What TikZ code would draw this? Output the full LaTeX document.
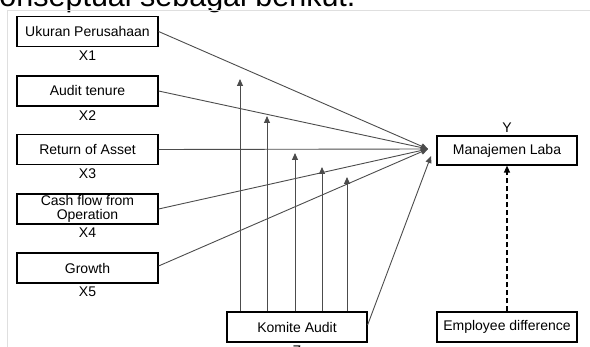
\documentclass[tikz,border=0pt]{standalone}
\usepackage{fontspec}
\setmainfont{Liberation Sans}
\usepackage{tikz}
\usetikzlibrary{arrows.meta, positioning, calc}

\begin{document}
\begin{tikzpicture}[
    x=1pt, y=-1pt,
    >={Triangle[length=7pt, width=6pt]},
    font=\fontsize{14}{14.5}\selectfont,
    varbox/.style={rectangle, draw=black, line width=1.2pt, align=center, inner sep=0pt, minimum width=141pt, minimum height=30pt},
    varlbl/.style={inner sep=0pt},
    line/.style={draw=black!70, line width=0.9pt, ->},
    dashline/.style={draw=black, line width=1.3pt, dash pattern=on 5pt off 3pt, ->},
    framegray/.style={draw=gray!25, line width=0.8pt}
]
    \useasboundingbox (0,0) rectangle (590,347);

    % Teks dan bingkai halaman
    \node [anchor=base west, inner sep=0pt, font=\fontsize{30.5}{32}\selectfont] (caption) at (-16,6.5) {konseptual sebagai berikut.};
    \draw [framegray] (590,10.5) -- (7.5,10.5) -- (7.5,347);

    % Variabel independen
    \node [varbox] (ukuran) at (87.5,31.5) {Ukuran Perusahaan};
    \node [varlbl, below=3.5pt of ukuran] (x1) {X1};
    \node [varbox] (tenure) at (87.5,91) {Audit tenure};
    \node [varlbl, below=3.5pt of tenure] (x2) {X2};
    \node [varbox] (roa) at (87.5,149.5) {Return of Asset};
    \node [varlbl, below=3.5pt of roa] (x3) {X3};
    \node [varbox] (cashflow) at (87.5,209) {Cash flow from\\Operation};
    \node [varlbl, below=3pt of cashflow] (x4) {X4};
    \node [varbox] (growth) at (87.5,268) {Growth};
    \node [varlbl, below=3.5pt of growth] (x5) {X5};

    % Moderasi, dependen, kontrol
    \node [varbox, minimum width=140pt] (komite) at (297,327) {Komite Audit};
    \node [varlbl, below=3pt of komite] (z) {Z};
    \node [varbox, minimum width=140pt, minimum height=29pt] (laba) at (507,150.5) {Manajemen Laba};
    \node [varlbl, above=3pt of laba] (y) {Y};
    \node [varbox, minimum width=140pt] (employee) at (507,327) {Employee difference};

    \coordinate (hit) at (428,149);
    \coordinate (hitz) at (431,156);
    \coordinate (m1) at (240,79);
    \coordinate (m2) at (267,116);
    \coordinate (m3) at (295,153);
    \coordinate (m4) at (322,167);
    \coordinate (m5) at (347,177);

    \draw [line] (ukuran.east) -- (hit);
    \draw [line] (tenure.east) -- (hit);
    \draw [line] (roa.east) -- (hit);
    \draw [line] (cashflow.east) -- (hit);
    \draw [line] ([yshift=2pt]growth.east) -- (hit);
    \draw [line] (m1 |- komite.north) -- (m1);
    \draw [line] (m2 |- komite.north) -- (m2);
    \draw [line] (m3 |- komite.north) -- (m3);
    \draw [line] (m4 |- komite.north) -- (m4);
    \draw [line] (m5 |- komite.north) -- (m5);
    \draw [line] ([yshift=2pt]komite.east) -- (hitz);
    \draw [dashline] (employee) -- (laba);

\end{tikzpicture}
\end{document}
